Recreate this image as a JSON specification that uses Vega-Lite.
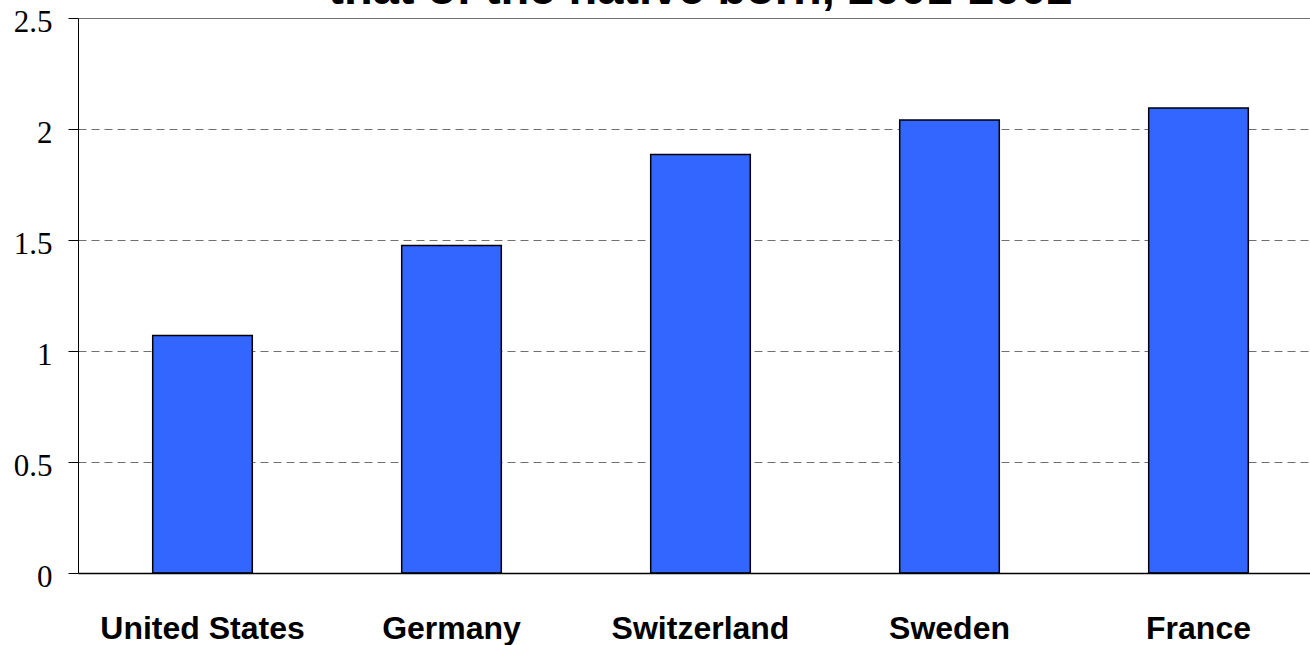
{
  "$schema": "https://vega.github.io/schema/vega-lite/v6.json",
  "width": 1245,
  "height": 555,
  "autosize": {"type": "none"},
  "padding": {"left": 78, "top": 18, "right": 0, "bottom": 72},
  "background": "white",
  "title": {
    "text": "that of the native born, 2001-2002",
    "font": "Liberation Sans",
    "fontSize": 47,
    "fontWeight": "bold",
    "color": "black",
    "anchor": "middle",
    "baseline": "alphabetic",
    "offset": 0,
    "dy": 45
  },
  "data": {
    "values": [
      {"country": "United States", "ratio": 1.07},
      {"country": "Germany", "ratio": 1.475},
      {"country": "Switzerland", "ratio": 1.885},
      {"country": "Sweden", "ratio": 2.04},
      {"country": "France", "ratio": 2.095}
    ]
  },
  "mark": {"type": "bar", "color": "#3366FF", "stroke": "black", "strokeWidth": 1.5},
  "encoding": {
    "x": {
      "field": "country",
      "type": "nominal",
      "sort": null,
      "scale": {"paddingInner": 0.6, "paddingOuter": 0.3},
      "axis": {
        "title": null,
        "labelAngle": 0,
        "labelFont": "Liberation Sans",
        "labelFontWeight": "bold",
        "labelFontSize": 32,
        "labelColor": "black",
        "labelPadding": 40,
        "labelLimit": 0,
        "ticks": false,
        "domainColor": "black",
        "domainWidth": 1.5,
        "zindex": 2
      }
    },
    "y": {
      "field": "ratio",
      "type": "quantitative",
      "scale": {"domain": [0, 2.5], "nice": false},
      "axis": {
        "title": null,
        "values": [0, 0.5, 1, 1.5, 2, 2.5],
        "labelExpr": "datum.value == 2.5 || datum.value == 1.5 || datum.value == 0.5 ? format(datum.value, '.1f') : format(datum.value, 'd')",
        "labelFont": "Liberation Serif",
        "labelFontSize": 31,
        "labelColor": "black",
        "labelPadding": 16,
        "labelOffset": 4,
        "tickSize": 10,
        "tickColor": "black",
        "domainColor": "black",
        "grid": true,
        "gridColor": {"condition": {"test": "datum.value == 0", "value": "black"}, "value": "#707070"},
        "gridDash": {"condition": {"test": "datum.value == 2.5 || datum.value == 0", "value": []}, "value": [8, 5]},
        "gridWidth": 1.2
      }
    }
  },
  "config": {"view": {"stroke": null}}
}
